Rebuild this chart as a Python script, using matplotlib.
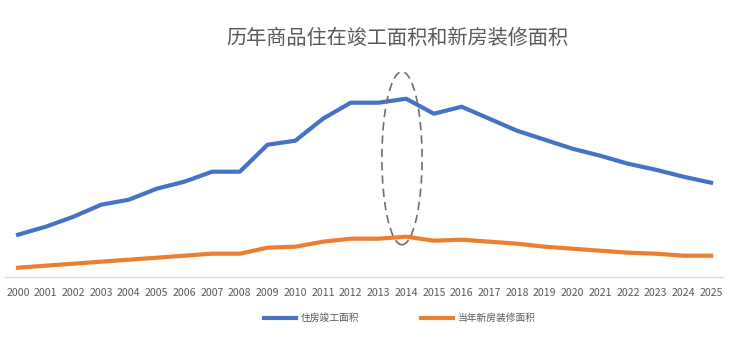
import matplotlib
matplotlib.use("Agg")
import matplotlib.pyplot as plt
from matplotlib.patches import Ellipse

plt.rcParams["font.family"] = ["Noto Sans CJK SC", "DejaVu Sans"]

years = [str(y) for y in range(2000, 2026)]
completed = [42, 50, 60, 72, 77, 88, 95, 105, 105, 132, 136, 158, 174,
             174, 178, 163, 170, 158, 146, 137, 128, 121, 113, 107, 100, 94]
decoration = [9, 11, 13, 15, 17, 19, 21, 23, 23, 29, 30, 35, 38,
              38, 40, 36, 37, 35, 33, 30, 28, 26, 24, 23, 21, 21]

BLUE = "#4472C4"
ORANGE = "#ED7D31"
GREY = "#595959"

fig = plt.figure(figsize=(7.4, 3.38), dpi=100)
ax = fig.add_axes([5 / 740, 0.1814, 718 / 740, 0.5916])

x = list(range(len(years)))
ax.plot(x, completed, color=BLUE, lw=3.0, solid_joinstyle="round", label="住房竣工面积")
ax.plot(x, decoration, color=ORANGE, lw=3.0, solid_joinstyle="round", label="当年新房装修面积")

# 2014 高亮圈
ax.add_patch(Ellipse((13.85, 118.5), 1.45, 173, fill=False, ec="#6f6f6f",
                     lw=1.2, ls=(0, (5, 3)), zorder=5, clip_on=False))

ax.set_xlim(-0.47, 25.43)
ax.set_ylim(0, 200)
ax.set_xticks(x)
ax.set_xticklabels(years, fontsize=7.6, color=GREY)
ax.tick_params(axis="x", length=0, pad=8)
ax.set_yticks([])
for s in ["top", "right", "left"]:
    ax.spines[s].set_visible(False)
ax.spines["bottom"].set_color("#D9D9D9")
ax.spines["bottom"].set_linewidth(1.0)

fig.text(0.537, 1 - 39 / 338, "历年商品住在竣工面积和新房装修面积", ha="center", va="center",
         fontsize=14.5, color=GREY)

fig.legend(loc="center", bbox_to_anchor=(400 / 740, 1 - 318 / 338), ncol=2,
           frameon=False, fontsize=7, labelcolor=GREY, handlelength=3.3,
           handletextpad=0.5, columnspacing=6.4)

fig.savefig("out.png", dpi=100)
